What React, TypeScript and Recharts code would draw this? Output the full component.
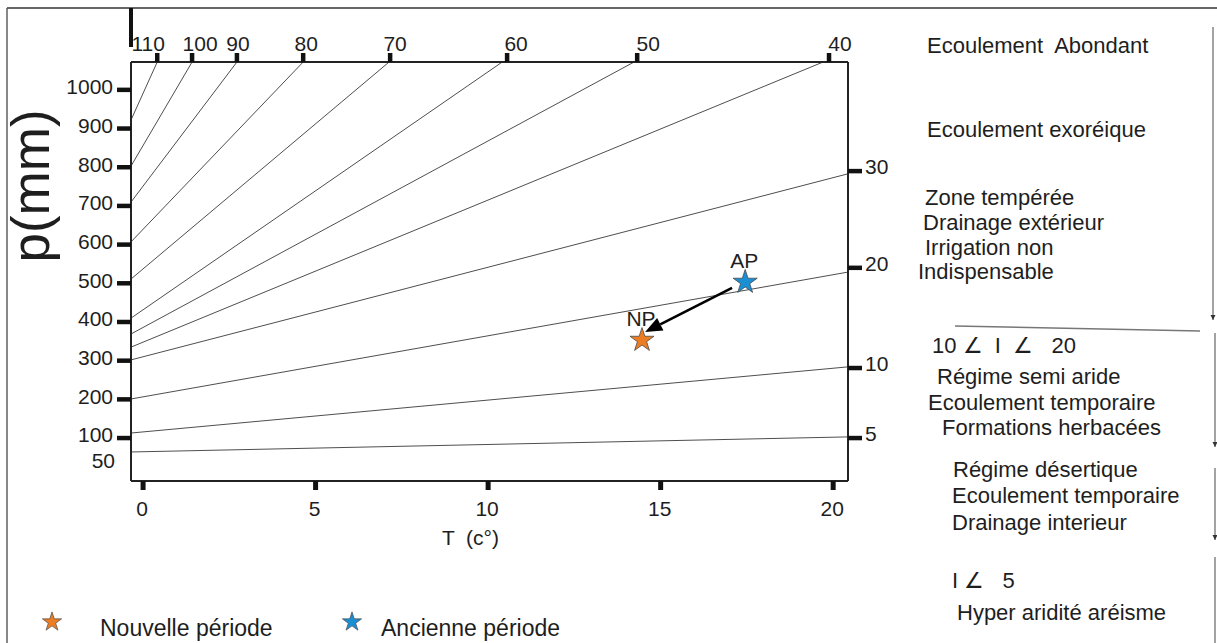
import React from "react";
import {
  ComposedChart,
  Line,
  Scatter,
  XAxis,
  YAxis,
  ReferenceLine,
  Legend,
  Symbols,
} from "recharts";

const FONT = '"Liberation Sans", Arial, Helvetica, sans-serif';
const INK = "#1e1e1e";

// De Martonne aridity index lines, I = P / (T + 10)
const indexValues = [5, 10, 20, 30, 40, 50, 60, 70, 80, 90, 100, 110];
// P (mm) where each line leaves the left edge of the frame
const lineStartP = [64, 113, 201, 302, 335, 369, 410, 511, 607, 710, 803, 922];
// where each line leaves the frame (right edge for I <= 30, top edge above)
const lineEndT = [20.43, 20.43, 20.43, 20.43, 19.71, 14.23, 10.41, 7.13, 4.64, 2.72, 1.42, 0.41];
const lineEndP = [103, 284, 529, 783, 1072, 1072, 1072, 1072, 1072, 1072, 1072, 1072];

const T_MIN = -0.35;
const T_MAX = 20.43;
const P_MIN = -11;
const P_MAX = 1072;

const tTicks = [0, 5, 10, 15, 20];
const pTicks = [50, 100, 200, 300, 400, 500, 600, 700, 800, 900, 1000];
const pTicksWithoutMark = [50];
const topTickT = [0.41, 1.42, 2.72, 4.64, 7.16, 10.55, 14.32, 19.88];
const topTickLabels = [110, 100, 90, 80, 70, 60, 50, 40];
const rightTickP = [790, 540, 281, 100];
const rightTickLabels = [30, 20, 10, 5];

const seriesNames = ["Nouvelle période", "Ancienne période"];
const nouvellePeriode = [{ T: 14.46, P: 353, label: "NP" }];
const anciennePeriode = [{ T: 17.45, P: 503, label: "AP" }];
const shiftFrom = { T: 17.07, P: 488 };
const shiftTo = { T: 14.55, P: 374 };

const isoLines = indexValues.map((I, i) => ({
  I,
  points: [
    { T: T_MIN, P: lineStartP[i] },
    { T: lineEndT[i], P: lineEndP[i] },
  ],
}));

const sideNotes = [
  { text: "Ecoulement  Abondant", x: 927, y: 53 },
  { text: "Ecoulement exoréique", x: 927, y: 137 },
  { text: "Zone tempérée", x: 925, y: 205 },
  { text: "Drainage extérieur", x: 923, y: 230 },
  { text: "Irrigation non", x: 925, y: 255 },
  { text: "Indispensable", x: 918, y: 279 },
  { text: "10 ∠  I  ∠   20", x: 932, y: 353 },
  { text: "Régime semi aride", x: 937, y: 384 },
  { text: "Ecoulement temporaire", x: 928, y: 410 },
  { text: "Formations herbacées", x: 942, y: 435 },
  { text: "Régime désertique", x: 953, y: 477 },
  { text: "Ecoulement temporaire", x: 952, y: 503 },
  { text: "Drainage interieur", x: 952, y: 530 },
  { text: "I ∠   5", x: 952, y: 588 },
  { text: "Hyper aridité aréisme", x: 957, y: 620 },
];

const sideArrows = [
  { x: 1213, y1: 27, y2: 320 },
  { x: 1215, y1: 333, y2: 447 },
  { x: 1215, y1: 468, y2: 540 },
  { x: 1215, y1: 557, y2: 650 },
];

const LeftTick = (props: any) => {
  const { x, y, payload } = props;
  const v = payload.value;
  const bare = pTicksWithoutMark.includes(v);
  return (
    <g>
      {!bare && <line x1={x - 14} y1={y} x2={x} y2={y} stroke="#111" strokeWidth={4.5} />}
      <text
        x={bare ? x - 16 : x - 18}
        y={bare ? y + 3 : y - 3}
        dy="0.35em"
        textAnchor="end"
        fontSize={21}
        fill={INK}
        fontFamily={FONT}
      >
        {v}
      </text>
    </g>
  );
};

const BottomTick = (props: any) => {
  const { x, y, payload } = props;
  return (
    <g>
      <line x1={x} y1={y} x2={x} y2={y + 9} stroke="#111" strokeWidth={5} />
      <text x={x - 1} y={y + 35} textAnchor="middle" fontSize={21} fill={INK} fontFamily={FONT}>
        {payload.value}
      </text>
    </g>
  );
};

// the printed labels sit a little off their marks on the top edge
const topLabelDx = [-9, 8, 1, 3, 5, 9, 11, 11];

const TopTick = (props: any) => {
  const { x, y, index } = props;
  return (
    <g>
      <line x1={x} y1={y - 9} x2={x} y2={y} stroke="#111" strokeWidth={4.5} />
      <text
        x={x + (topLabelDx[index] ?? 5)}
        y={y - 11}
        textAnchor="middle"
        fontSize={21}
        fill={INK}
        fontFamily={FONT}
      >
        {topTickLabels[index]}
      </text>
    </g>
  );
};

const RightTick = (props: any) => {
  const { x, y, index } = props;
  return (
    <g>
      <line x1={x} y1={y} x2={x + 14} y2={y} stroke="#111" strokeWidth={4.5} />
      <text x={x + 17} y={y + 3} textAnchor="start" fontSize={21} fill={INK} fontFamily={FONT}>
        {rightTickLabels[index]}
      </text>
    </g>
  );
};

const starShape = (props: any) => {
  const { cx, cy, fill, payload } = props;
  return (
    <g>
      <text x={cx - 1} y={cy - 14} textAnchor="middle" fontSize={21} fill={INK} fontFamily={FONT}>
        {payload.label}
      </text>
      <Symbols type="star" size={180} cx={cx} cy={cy} fill={fill} stroke="#4a4a4a" strokeWidth={0.8} />
    </g>
  );
};

const ArrowShape = (props: any) => {
  const { x1, y1, x2, y2 } = props;
  const dx = x2 - x1;
  const dy = y2 - y1;
  const len = Math.sqrt(dx * dx + dy * dy);
  const ux = dx / len;
  const uy = dy / len;
  const head = 17;
  const half = 7;
  const bx = x2 - ux * head;
  const by = y2 - uy * head;
  return (
    <g>
      <line x1={x1} y1={y1} x2={bx} y2={by} stroke="#000" strokeWidth={2.6} />
      <polygon
        points={`${x2},${y2} ${bx - uy * half},${by + ux * half} ${bx + uy * half},${by - ux * half}`}
        fill="#000"
      />
    </g>
  );
};

const legendStarX = [52, 352];
const legendTextX = [100, 381];

const renderLegend = (props: any) => {
  const all = props.payload ?? [];
  const items = seriesNames
    .map((name) => all.find((it: any) => it.value === name))
    .filter(Boolean);
  return (
    <svg width={620} height={43} style={{ overflow: "visible", display: "block" }}>
      {items.map((it: any, i: number) => (
        <g key={it.value}>
          <Symbols
            type="star"
            size={115}
            cx={legendStarX[i]}
            cy={22}
            fill={it.payload?.fill ?? it.color}
            stroke="#4a4a4a"
            strokeWidth={0.7}
          />
          <text x={legendTextX[i]} y={36} fontSize={23} fill={INK} fontFamily={FONT}>
            {it.value}
          </text>
        </g>
      ))}
    </svg>
  );
};

export default function App() {
  return (
    <div style={{ position: "absolute", left: 0, top: 0, width: 1217, height: 643, background: "#fff" }}>
      <ComposedChart
        width={1217}
        height={643}
        margin={{ top: 0, right: 0, bottom: 0, left: 0 }}
        style={{ fontFamily: FONT }}
      >
        <XAxis
          xAxisId="bottom"
          type="number"
          dataKey="T"
          domain={[T_MIN, T_MAX]}
          allowDataOverflow
          ticks={tTicks}
          interval={0}
          height={162}
          tickSize={0}
          tickMargin={0}
          tick={BottomTick}
          axisLine={{ stroke: "#222", strokeWidth: 2 }}
          label={{
            content: (p: any) => (
              <text
                x={p.viewBox.x + 311}
                y={p.viewBox.y + 64}
                fontSize={21}
                fill={INK}
                fontFamily={FONT}
                style={{ whiteSpace: "pre" }}
              >
                {"T  (c°)"}
              </text>
            ),
          }}
        />
        <XAxis
          xAxisId="top"
          orientation="top"
          type="number"
          dataKey="T"
          domain={[T_MIN, T_MAX]}
          allowDataOverflow
          ticks={topTickT}
          interval={0}
          height={62}
          tickSize={0}
          tickMargin={0}
          tick={TopTick}
          axisLine={{ stroke: "#222", strokeWidth: 2 }}
        />
        <YAxis
          yAxisId="left"
          type="number"
          domain={[P_MIN, P_MAX]}
          allowDataOverflow
          ticks={pTicks}
          interval={0}
          width={131}
          tickSize={0}
          tickMargin={0}
          tick={LeftTick}
          axisLine={{ stroke: "#222", strokeWidth: 2 }}
          label={{
            content: (p: any) => (
              <text
                transform={`translate(${p.viewBox.x + 49}, 186) rotate(-90)`}
                textAnchor="middle"
                fontSize={53}
                fill={INK}
                fontFamily={FONT}
              >
                p(mm)
              </text>
            ),
          }}
        />
        <YAxis
          yAxisId="right"
          orientation="right"
          type="number"
          domain={[P_MIN, P_MAX]}
          allowDataOverflow
          ticks={rightTickP}
          interval={0}
          width={369}
          tickSize={0}
          tickMargin={0}
          tick={RightTick}
          axisLine={{ stroke: "#222", strokeWidth: 2 }}
        />

        {isoLines.map((l) => (
          <Line
            key={l.I}
            name={`I = ${l.I}`}
            xAxisId="bottom"
            yAxisId="left"
            data={l.points}
            dataKey="P"
            type="linear"
            stroke="#3a3a3a"
            strokeWidth={0.9}
            dot={false}
            activeDot={false}
            legendType="none"
            isAnimationActive={false}
          />
        ))}

        <ReferenceLine
          xAxisId="bottom"
          yAxisId="left"
          segment={[
            { x: shiftFrom.T, y: shiftFrom.P },
            { x: shiftTo.T, y: shiftTo.P },
          ]}
          ifOverflow="visible"
          shape={ArrowShape}
        />

        <Scatter
          name={seriesNames[0]}
          xAxisId="bottom"
          yAxisId="left"
          data={nouvellePeriode}
          dataKey="P"
          fill="#ED7D22"
          shape={starShape}
          isAnimationActive={false}
        />
        <Scatter
          name={seriesNames[1]}
          xAxisId="bottom"
          yAxisId="left"
          data={anciennePeriode}
          dataKey="P"
          fill="#1A8FD3"
          shape={starShape}
          isAnimationActive={false}
        />

        <Legend
          layout="horizontal"
          verticalAlign="middle"
          align="center"
          content={renderLegend}
          wrapperStyle={{ position: "absolute", left: 0, top: 600, width: 620, height: 43 }}
        />
      </ComposedChart>

      <svg
        width={1217}
        height={643}
        style={{ position: "absolute", left: 0, top: 0, pointerEvents: "none" }}
      >
        <line x1={7} y1={8} x2={1217} y2={8} stroke="#333" strokeWidth={1.6} />
        <line x1={7} y1={8} x2={7} y2={643} stroke="#555" strokeWidth={1.4} />
        <line x1={131} y1={8} x2={131} y2={47} stroke="#111" strokeWidth={4} />
        <line x1={955} y1={326} x2={1200} y2={331} stroke="#777" strokeWidth={1.5} />
        {sideArrows.map((a, i) => (
          <g key={i}>
            <line x1={a.x} y1={a.y1} x2={a.x} y2={a.y2} stroke="#666" strokeWidth={1.2} />
            <polygon points={`${a.x - 2.5},${a.y2 - 5} ${a.x + 2.5},${a.y2 - 5} ${a.x},${a.y2}`} fill="#333" />
          </g>
        ))}
        {sideNotes.map((n, i) => (
          <text
            key={i}
            x={n.x}
            y={n.y}
            fontSize={22}
            fill={INK}
            fontFamily={FONT}
            style={{ whiteSpace: "pre" }}
          >
            {n.text}
          </text>
        ))}
      </svg>
    </div>
  );
}
